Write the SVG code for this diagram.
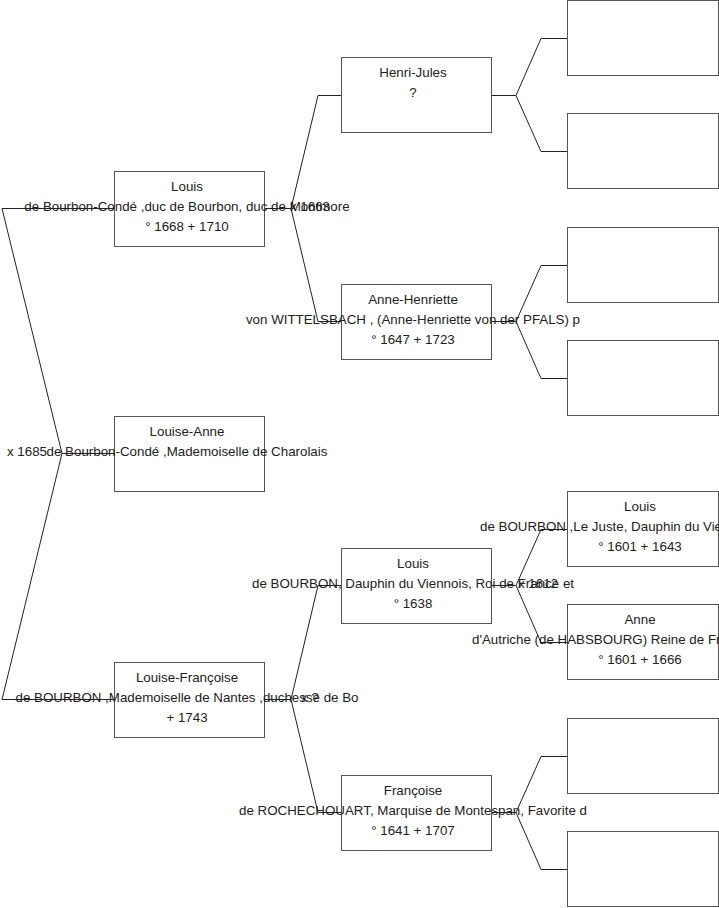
<svg xmlns="http://www.w3.org/2000/svg" width="719" height="908" viewBox="0 0 719 908">
<style>
.box{fill:#fff;stroke:#555;stroke-width:1}
.t{font-family:"Liberation Sans",Arial,sans-serif;font-size:13.33px;fill:#222;text-anchor:middle}
.c{fill:none;stroke:#222;stroke-width:1}
</style>
<rect x="0" y="0" width="719" height="908" fill="#fff"/>
<g id="connectors">
<polyline class="c" points="114,208.5 2,208.5 62,453.5 2,699.5 114,699.5"/>
<polyline class="c" points="62,453.5 114,453.5"/>
<polyline class="c" points="265,208.5 291,208.5"/>
<polyline class="c" points="341,95.5 318,95.5 291,208.5 318,321.5 341,321.5"/>
<polyline class="c" points="265,699.5 291,699.5"/>
<polyline class="c" points="341,585.5 318,585.5 291,699.5 318,812.5 341,812.5"/>
<polyline class="c" points="491,95.5 516,95.5"/>
<polyline class="c" points="567,38.5 541,38.5 516,95.5 541,151.5 567,151.5"/>
<polyline class="c" points="491,321.5 516,321.5"/>
<polyline class="c" points="567,265.5 541,265.5 516,321.5 541,378.5 567,378.5"/>
<polyline class="c" points="491,585.5 516,585.5"/>
<polyline class="c" points="567,529.5 541,529.5 516,585.5 541,642.5 567,642.5"/>
<polyline class="c" points="491,812.5 516,812.5"/>
<polyline class="c" points="567,756.5 541,756.5 516,812.5 541,869.5 567,869.5"/>
</g>
<g id="n-louis-conde">
<rect class="box" x="114.5" y="171.5" width="150" height="75"/>
<text class="t" x="187" y="191">Louis</text>
<text class="t" x="187" y="211">de Bourbon-Condé ,duc de Bourbon, duc de Montmore</text>
<text class="t" x="187" y="231">° 1668 + 1710</text>
</g>
<g id="n-louise-anne">
<rect class="box" x="114.5" y="416.5" width="150" height="75"/>
<text class="t" x="187" y="436">Louise-Anne</text>
<text class="t" x="187" y="456">de Bourbon-Condé ,Mademoiselle de Charolais</text>
</g>
<g id="n-louise-francoise">
<rect class="box" x="114.5" y="662.5" width="150" height="75"/>
<text class="t" x="187" y="682">Louise-Françoise</text>
<text class="t" x="187" y="702">de BOURBON ,Mademoiselle de Nantes ,duchesse de Bo</text>
<text class="t" x="187" y="722">+ 1743</text>
</g>
<g id="n-henri-jules">
<rect class="box" x="341.5" y="57.5" width="150" height="75"/>
<text class="t" x="413" y="77">Henri-Jules</text>
<text class="t" x="413" y="97">?</text>
</g>
<g id="n-anne-henriette">
<rect class="box" x="341.5" y="284.5" width="150" height="75"/>
<text class="t" x="413" y="304">Anne-Henriette</text>
<text class="t" x="413" y="324">von WITTELSBACH , (Anne-Henriette von der PFALS) p</text>
<text class="t" x="413" y="344">° 1647 + 1723</text>
</g>
<g id="n-louis-xiv">
<rect class="box" x="341.5" y="548.5" width="150" height="75"/>
<text class="t" x="413" y="568">Louis</text>
<text class="t" x="413" y="588">de BOURBON, Dauphin du Viennois, Roi de France et</text>
<text class="t" x="413" y="608">° 1638</text>
</g>
<g id="n-francoise">
<rect class="box" x="341.5" y="775.5" width="150" height="75"/>
<text class="t" x="413" y="795">Françoise</text>
<text class="t" x="413" y="815">de ROCHECHOUART, Marquise de Montespan, Favorite d</text>
<text class="t" x="413" y="835">° 1641 + 1707</text>
</g>
<g id="n-g1"><rect class="box" x="567.5" y="0.5" width="151" height="75"/></g>
<g id="n-g2"><rect class="box" x="567.5" y="113.5" width="151" height="75"/></g>
<g id="n-g3"><rect class="box" x="567.5" y="227.5" width="151" height="75"/></g>
<g id="n-g4"><rect class="box" x="567.5" y="340.5" width="151" height="75"/></g>
<g id="n-louis-xiii">
<rect class="box" x="567.5" y="491.5" width="151" height="75"/>
<text class="t" x="640" y="511">Louis</text>
<text class="t" x="480" y="531" style="text-anchor:start">de BOURBON ,Le Juste, Dauphin du Viennois, Roi de</text>
<text class="t" x="640" y="551">° 1601 + 1643</text>
</g>
<g id="n-anne-autriche">
<rect class="box" x="567.5" y="604.5" width="151" height="75"/>
<text class="t" x="640" y="624">Anne</text>
<text class="t" x="472" y="644" style="text-anchor:start">d'Autriche (de HABSBOURG) Reine de France et de Nava</text>
<text class="t" x="640" y="664">° 1601 + 1666</text>
</g>
<g id="n-g7"><rect class="box" x="567.5" y="718.5" width="151" height="75"/></g>
<g id="n-g8"><rect class="box" x="567.5" y="831.5" width="151" height="75"/></g>
<g id="marriages">
<text class="t" x="27" y="456">x 1685</text>
<text class="t" x="310" y="211">x 1663</text>
<text class="t" x="310" y="702">x ?</text>
<text class="t" x="538" y="588">x 1612</text>
</g>
</svg>
